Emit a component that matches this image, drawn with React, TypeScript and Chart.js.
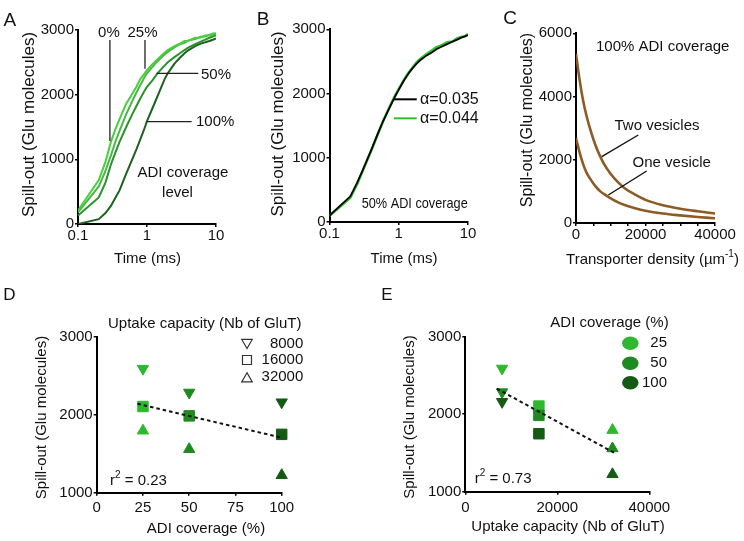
import React, { useEffect, useRef } from 'react';
import { Chart, registerables } from 'chart.js';

Chart.register(...registerables);

const FONT = "'Liberation Sans', Arial, Helvetica, sans-serif";
Chart.defaults.font.family = FONT;

// ---------------- data ----------------
// Panels A & B : spill-out time course (log time axis)
const timeMs = [0.1, 0.2, 0.25, 0.3, 0.35, 0.4, 0.5, 0.6, 0.7, 0.8, 0.9, 1, 1.2, 1.4, 1.6, 1.8, 2, 2.5, 3, 3.5, 4, 5, 6, 7, 8, 9, 10];
const timeTicks = [0.1, 1, 10];
const coverageLevels = ['0%', '25%', '50%', '100%'];
const spillAdi0 = [210, 680, 960, 1270, 1470, 1620, 1860, 2000, 2120, 2240, 2310, 2380, 2470, 2540, 2600, 2650, 2690, 2750, 2790, 2830, 2835, 2880, 2885, 2915, 2920, 2945, 2950];
const spillAdi25 = [180, 580, 820, 1060, 1280, 1440, 1700, 1880, 2030, 2150, 2250, 2330, 2430, 2510, 2570, 2620, 2660, 2730, 2780, 2800, 2840, 2860, 2895, 2900, 2925, 2930, 2940];
const spillAdi50 = [130, 410, 640, 920, 1110, 1270, 1500, 1680, 1820, 1940, 2040, 2120, 2220, 2320, 2390, 2450, 2500, 2580, 2640, 2690, 2730, 2780, 2820, 2850, 2880, 2900, 2920];
const spillAdi100 = [0, 75, 170, 280, 410, 520, 780, 980, 1150, 1310, 1450, 1590, 1790, 1960, 2110, 2240, 2330, 2480, 2570, 2640, 2690, 2750, 2790, 2810, 2830, 2850, 2870];
const alphaLabels = ['\u03B1=0.035', '\u03B1=0.044'];
const spillAlpha035 = [100, 400, 610, 800, 970, 1120, 1380, 1580, 1730, 1860, 1970, 2060, 2210, 2320, 2400, 2460, 2510, 2590, 2640, 2690, 2720, 2770, 2810, 2840, 2870, 2890, 2910];
const spillAlpha044 = [95, 380, 590, 790, 960, 1110, 1370, 1580, 1740, 1870, 1980, 2070, 2220, 2330, 2410, 2480, 2530, 2610, 2670, 2720, 2740, 2800, 2810, 2860, 2880, 2890, 2925];

// Panel C : spill-out vs transporter density
const transporterDensity = [0, 1000, 2000, 3000, 4000, 5000, 6000, 7000, 8000, 10000, 12000, 14000, 17000, 20000, 25000, 30000, 35000, 40000];
const spillTwoVesicles = [5350, 4550, 3900, 3400, 3000, 2650, 2350, 2100, 1880, 1550, 1300, 1100, 900, 730, 560, 450, 370, 300];
const spillOneVesicle = [2680, 2250, 1880, 1600, 1410, 1250, 1110, 1000, 920, 780, 660, 570, 470, 390, 300, 240, 190, 150];

// Panels D & E : spill-out vs ADI coverage / uptake capacity
const adiCoverage = [25, 50, 100];
const uptakeCapacity = [8000, 16000, 32000];
const spill8000 = [2590, 2285, 2160];
const spill16000 = [2105, 1985, 1748];
const spill32000 = [1795, 1558, 1224];
const trendCoverageX = [22, 100];
const trendCoverageY = [2140, 1705];
const trendCapacityX = [6850, 32900];
const trendCapacityY = [2330, 1485];
const r2Coverage = '0.23';
const r2Capacity = '0.73';

// ---------------- styles ----------------
const adiCurveColors = ['#45d03c', '#4cb548', '#2a922b', '#1d6221'];
const coverageColors = ['#2fb82f', '#1f8a1f', '#155a15'];
const brown = '#8d5b25';

type Box = { left: number; top: number; width: number; height: number };
type Area = { l: number; r: number; t: number; b: number };
type Txt = { text: string; x: number; y: number; data?: boolean; size?: number; align?: 'left' | 'center' | 'right'; rotate?: boolean; baseline?: CanvasTextBaseline; maxW?: number };
type Seg = { x1: number; y1: number; x2: number; y2: number; color: string; width: number };
type Mark = { kind: 'triUp' | 'triDown' | 'square' | 'ellipse'; x: number; y: number; size: number; sizeY?: number; fill?: string; stroke?: string };

function parseRich(text: string) {
  return text
    .split(/(\^\{[^}]*\})/)
    .filter((p) => p.length > 0)
    .map((p) => (p.startsWith('^{') ? { t: p.slice(2, -1), sup: true } : { t: p, sup: false }));
}

function drawText(ctx: CanvasRenderingContext2D, t: Txt, x: number, y: number) {
  const size = t.size ?? 15;
  const parts = parseRich(t.text);
  const fontOf = (sup: boolean) => `${sup ? Math.round(size * 0.68) : size}px ${FONT}`;
  const widths = parts.map((p) => {
    ctx.font = fontOf(p.sup);
    return ctx.measureText(p.t).width;
  });
  const total = widths.reduce((a, b) => a + b, 0);
  const sx = t.maxW && total > t.maxW ? t.maxW / total : 1;
  ctx.save();
  ctx.translate(x, y);
  if (t.rotate) ctx.rotate(-Math.PI / 2);
  ctx.scale(sx, 1);
  const align = t.align ?? 'center';
  let cx = align === 'center' ? -total / 2 : align === 'right' ? -total : 0;
  ctx.fillStyle = '#111';
  ctx.textAlign = 'left';
  ctx.textBaseline = t.baseline ?? 'middle';
  parts.forEach((p, i) => {
    ctx.font = fontOf(p.sup);
    ctx.fillText(p.t, cx, p.sup ? -size * 0.38 : 0);
    cx += widths[i];
  });
  ctx.restore();
}

function drawMark(ctx: CanvasRenderingContext2D, m: Mark) {
  const s = m.size;
  ctx.beginPath();
  if (m.kind === 'ellipse') {
    ctx.ellipse(m.x, m.y, s / 2, (m.sizeY ?? s) / 2, 0, 0, Math.PI * 2);
  } else if (m.kind === 'square') {
    ctx.rect(m.x - s / 2, m.y - s / 2, s, s);
  } else {
    const h = s * 0.866;
    const dir = m.kind === 'triUp' ? 1 : -1;
    ctx.moveTo(m.x, m.y - (dir * h) / 2);
    ctx.lineTo(m.x - s / 2, m.y + (dir * h) / 2);
    ctx.lineTo(m.x + s / 2, m.y + (dir * h) / 2);
    ctx.closePath();
  }
  if (m.fill) {
    ctx.fillStyle = m.fill;
    ctx.fill();
  }
  if (m.stroke) {
    ctx.strokeStyle = m.stroke;
    ctx.lineWidth = 1.2;
    ctx.stroke();
  }
}

function overlayPlugin(spec: { texts?: Txt[]; segs?: Seg[]; marks?: Mark[] }) {
  return {
    id: 'overlay',
    afterDraw(chart: any) {
      const ctx: CanvasRenderingContext2D = chart.ctx;
      const xs = chart.scales.x;
      const ys = chart.scales.y;
      const pos = (x: number, y: number, data: boolean) => (data ? [xs.getPixelForValue(x), ys.getPixelForValue(y)] : [x, y]);
      ctx.save();
      for (const s of spec.segs || []) {
        const [x1, y1] = pos(s.x1, s.y1, true);
        const [x2, y2] = pos(s.x2, s.y2, true);
        ctx.beginPath();
        ctx.strokeStyle = s.color;
        ctx.lineWidth = s.width;
        ctx.moveTo(x1, y1);
        ctx.lineTo(x2, y2);
        ctx.stroke();
      }
      for (const m of spec.marks || []) drawMark(ctx, m);
      for (const t of spec.texts || []) {
        const [x, y] = pos(t.x, t.y, !!t.data);
        drawText(ctx, t, x, y);
      }
      ctx.restore();
    },
  };
}

const plainNumber = (v: any) => String(v);

function axis(extra: any, tickPad: number) {
  const { ticks, ...rest } = extra;
  return {
    border: { display: true, color: '#000', width: 2 },
    grid: { display: true, drawOnChartArea: false, drawTicks: true, tickLength: 3, color: '#000', lineWidth: 1.5 },
    ...rest,
    ticks: { color: '#111', font: { family: FONT, size: 15 }, autoSkip: false, maxRotation: 0, minRotation: 0, padding: tickPad, callback: plainNumber, ...(ticks || {}) },
  };
}

function buildOptions(box: Box, area: Area, x: any, y: any, xPad: number) {
  return {
    responsive: false,
    maintainAspectRatio: false,
    animation: false,
    events: [],
    layout: {
      autoPadding: false,
      padding: { left: 0, top: area.t - box.top, right: box.left + box.width - area.r, bottom: 0 },
    },
    plugins: { legend: { display: false }, tooltip: { enabled: false }, title: { display: false } },
    scales: {
      x: axis({ ...x, position: 'bottom', afterFit: (s: any) => { s.height = box.top + box.height - area.b; } }, xPad),
      y: axis({ ...y, position: 'left', afterFit: (s: any) => { s.width = area.l - box.left; } }, 1),
    },
  };
}

const logTimeAxis = {
  type: 'logarithmic',
  min: 0.1,
  max: 10,
  afterBuildTicks: (s: any) => {
    s.ticks = timeTicks.map((v) => ({ value: v }));
  },
};

// ---------------- panels ----------------
const boxA: Box = { left: 0, top: 0, width: 245, height: 270 };
const areaA: Area = { l: 78, r: 216, t: 30, b: 224 };
function buildA() {
  const series = [spillAdi0, spillAdi25, spillAdi50, spillAdi100];
  return {
    type: 'line',
    data: {
      datasets: series.map((arr, i) => ({
        label: coverageLevels[i],
        data: timeMs.map((t, k) => ({ x: t, y: arr[k] })),
        borderColor: adiCurveColors[i],
        borderWidth: 2,
        pointRadius: 0,
        tension: 0,
      })),
    },
    options: buildOptions(boxA, areaA, logTimeAxis, { type: 'linear', min: 0, max: 3000, ticks: { stepSize: 1000 } }, 0),
    plugins: [
      overlayPlugin({
        segs: [
          { x1: 0.29, y1: 2845, x2: 0.29, y2: 1283, color: '#222', width: 1.3 },
          { x1: 0.935, y1: 2845, x2: 0.935, y2: 2400, color: '#222', width: 1.3 },
          { x1: 1.38, y1: 2330, x2: 5.54, y2: 2330, color: '#222', width: 1.3 },
          { x1: 0.985, y1: 1582, x2: 4.44, y2: 1582, color: '#222', width: 1.3 },
        ],
        texts: [
          { text: 'A', x: 3.5, y: 26, size: 19, align: 'left', baseline: 'alphabetic' },
          { text: 'Spill-out (Glu molecules)', x: 29, y: 124.5, size: 17, rotate: true },
          { text: 'Time (ms)', x: 147.5, y: 259 },
          { text: coverageLevels[0], x: 0.281, y: 2953, data: true },
          { text: coverageLevels[1], x: 0.861, y: 2953, data: true },
          { text: coverageLevels[2], x: 6.06, y: 2305, data: true, align: 'left' },
          { text: coverageLevels[3], x: 5.13, y: 1585, data: true, align: 'left' },
          { text: 'ADI coverage', x: 3.32, y: 789, data: true },
          { text: 'level', x: 2.77, y: 479, data: true },
        ],
      }),
    ],
  };
}

const boxB: Box = { left: 245, top: 0, width: 245, height: 270 };
const areaB: Area = { l: 329.5, r: 468, t: 29.3, b: 222 };
function buildB() {
  return {
    type: 'line',
    data: {
      datasets: [
        { label: alphaLabels[0], data: timeMs.map((t, k) => ({ x: t, y: spillAlpha035[k] })), borderColor: '#000', borderWidth: 1.8, pointRadius: 0, tension: 0 },
        { label: alphaLabels[1], data: timeMs.map((t, k) => ({ x: t, y: spillAlpha044[k] })), borderColor: '#2fbf2f', borderWidth: 2.6, pointRadius: 0, tension: 0 },
      ],
    },
    options: buildOptions(boxB, areaB, logTimeAxis, { type: 'linear', min: 0, max: 3000, ticks: { stepSize: 1000 } }, 0),
    plugins: [
      overlayPlugin({
        segs: [
          { x1: 0.853, y1: 1910, x2: 1.82, y2: 1910, color: '#000', width: 2 },
          { x1: 0.853, y1: 1614, x2: 1.82, y2: 1614, color: '#2fbf2f', width: 2 },
        ],
        texts: [
          { text: 'B', x: 11.7, y: 25, size: 19, align: 'left', baseline: 'alphabetic' },
          { text: 'Spill-out (Glu molecules)', x: 33.3, y: 124, size: 17, rotate: true },
          { text: 'Time (ms)', x: 159, y: 258.5 },
          { text: alphaLabels[0], x: 2.03, y: 1910, data: true, align: 'left', size: 16 },
          { text: alphaLabels[1], x: 2.03, y: 1614, data: true, align: 'left', size: 16 },
          { text: '50% ADI coverage', x: 1.7, y: 280, data: true, size: 15, maxW: 106 },
        ],
      }),
    ],
  };
}

const boxC: Box = { left: 490, top: 0, width: 254, height: 270 };
const areaC: Area = { l: 576, r: 715, t: 33.3, b: 223 };
function buildC() {
  return {
    type: 'line',
    data: {
      datasets: [
        { label: 'Two vesicles', data: transporterDensity.map((d, k) => ({ x: d, y: spillTwoVesicles[k] })), borderColor: brown, borderWidth: 2.6, pointRadius: 0, cubicInterpolationMode: 'monotone' },
        { label: 'One vesicle', data: transporterDensity.map((d, k) => ({ x: d, y: spillOneVesicle[k] })), borderColor: brown, borderWidth: 2.6, pointRadius: 0, cubicInterpolationMode: 'monotone' },
      ],
    },
    options: buildOptions(
      boxC,
      areaC,
      { type: 'linear', min: 0, max: 40000, ticks: { stepSize: 5000, callback: (v: any) => (v % 20000 === 0 ? String(v) : '') } },
      { type: 'linear', min: 0, max: 6000, ticks: { stepSize: 2000 } },
      0,
    ),
    plugins: [
      overlayPlugin({
        segs: [
          { x1: 7400, y1: 2097, x2: 17930, y2: 2783, color: '#111', width: 1.4 },
          { x1: 9300, y1: 885, x2: 20350, y2: 1644, color: '#111', width: 1.4 },
        ],
        texts: [
          { text: 'C', x: 13.3, y: 23.5, size: 19, align: 'left', baseline: 'alphabetic' },
          { text: 'Spill-out (Glu molecules)', x: 37.5, y: 120, size: 16, rotate: true },
          { text: 'Transporter density (\u00B5m^{-1})', x: 162.5, y: 260 },
          { text: '100% ADI coverage', x: 24950, y: 5575, data: true },
          { text: 'Two vesicles', x: 23310, y: 3068, data: true },
          { text: 'One vesicle', x: 27540, y: 1888, data: true },
        ],
      }),
    ],
  };
}

const capacitySeries = [spill8000, spill16000, spill32000];
const capacityPointStyle = ['triangle', 'rect', 'triangle'];
const capacityRotation = [180, 0, 0];
const capacityRadius = [6.5, 7.4, 6.5];
const legendShapes: Mark['kind'][] = ['triDown', 'square', 'triUp'];

function trendDataset(xs: number[], ys: number[]) {
  return {
    type: 'line',
    data: xs.map((x, i) => ({ x, y: ys[i] })),
    borderColor: '#111',
    borderWidth: 2,
    borderDash: [3.5, 3],
    pointRadius: 0,
    showLine: true,
    clip: false,
  };
}

function scatterSets(xOf: (i: number, k: number) => number) {
  return capacitySeries.map((arr, i) => ({
    label: String(uptakeCapacity[i]),
    data: adiCoverage.map((_c, k) => ({ x: xOf(i, k), y: arr[k] })),
    pointStyle: capacityPointStyle[i],
    rotation: capacityRotation[i],
    pointRadius: capacityRadius[i],
    pointBackgroundColor: coverageColors,
    pointBorderColor: coverageColors,
    pointBorderWidth: 1,
    clip: false,
  }));
}

const boxD: Box = { left: 0, top: 270, width: 372, height: 271 };
const areaD: Area = { l: 96.7, r: 281.7, t: 336.7, b: 492.7 };
function buildD() {
  return {
    type: 'scatter',
    data: {
      datasets: [trendDataset(trendCoverageX, trendCoverageY), ...scatterSets((_i, k) => adiCoverage[k])],
    },
    options: buildOptions(
      boxD,
      areaD,
      { type: 'linear', min: 0, max: 100, ticks: { stepSize: 25 } },
      { type: 'linear', min: 1000, max: 3000, ticks: { stepSize: 1000 } },
      3,
    ),
    plugins: [
      overlayPlugin({
        marks: legendShapes.map((k, i) => ({ kind: k, x: 247, y: [74, 90, 107.3][i], size: k === 'square' ? 9 : 10.5, stroke: '#333' })),
        texts: [
          { text: 'D', x: 3.3, y: 30, size: 17, align: 'left', baseline: 'alphabetic' },
          { text: 'Spill-out (Glu molecules)', x: 41.7, y: 147.5, rotate: true },
          { text: 'ADI coverage (%)', x: 206, y: 259.3 },
          { text: 'Uptake capacity (Nb of GluT)', x: 204.7, y: 54.3 },
          ...uptakeCapacity.map((c, i) => ({ text: String(c), x: 303.3, y: [74, 90, 107.3][i], align: 'right' as const })),
          { text: 'r^{2} = ' + r2Coverage, x: 110, y: 210.7, align: 'left' },
        ],
      }),
    ],
  };
}

const boxE: Box = { left: 372, top: 270, width: 372, height: 271 };
const areaE: Area = { l: 465.3, r: 649.3, t: 336.7, b: 491.7 };
function buildE() {
  return {
    type: 'scatter',
    data: {
      datasets: [trendDataset(trendCapacityX, trendCapacityY), ...scatterSets((i) => uptakeCapacity[i])],
    },
    options: buildOptions(
      boxE,
      areaE,
      { type: 'linear', min: 0, max: 40000, ticks: { stepSize: 20000 } },
      { type: 'linear', min: 1000, max: 3000, ticks: { stepSize: 1000 } },
      4,
    ),
    plugins: [
      overlayPlugin({
        marks: adiCoverage.map((_c, i) => ({ kind: 'ellipse' as const, x: 258.3, y: [73.3, 93.3, 112.7][i], size: 16.5, sizeY: 13.5, fill: coverageColors[i] })),
        texts: [
          { text: 'E', x: 9.3, y: 30, size: 17, align: 'left', baseline: 'alphabetic' },
          { text: 'Spill-out (Glu molecules)', x: 38.3, y: 147, rotate: true },
          { text: 'Uptake capacity (Nb of GluT)', x: 196, y: 257 },
          { text: 'ADI coverage (%)', x: 237.5, y: 52.7 },
          ...adiCoverage.map((c, i) => ({ text: String(c), x: 295, y: [73.3, 93.3, 112.7][i], align: 'right' as const })),
          { text: 'r^{2} = ' + r2Capacity, x: 102.7, y: 209.3, align: 'left' },
        ],
      }),
    ],
  };
}

function ChartCanvas({ box, build }: { box: Box; build: () => any }) {
  const ref = useRef<HTMLCanvasElement>(null);
  useEffect(() => {
    if (!ref.current) return;
    const chart = new Chart(ref.current, build());
    return () => chart.destroy();
  }, []);
  return (
    <canvas
      ref={ref}
      width={box.width}
      height={box.height}
      style={{ position: 'absolute', left: box.left, top: box.top, width: box.width, height: box.height }}
    />
  );
}

export default function App() {
  return (
    <div style={{ position: 'absolute', left: 0, top: 0, width: 744, height: 541, background: '#fff', overflow: 'hidden' }}>
      <ChartCanvas box={boxA} build={buildA} />
      <ChartCanvas box={boxB} build={buildB} />
      <ChartCanvas box={boxC} build={buildC} />
      <ChartCanvas box={boxD} build={buildD} />
      <ChartCanvas box={boxE} build={buildE} />
    </div>
  );
}
